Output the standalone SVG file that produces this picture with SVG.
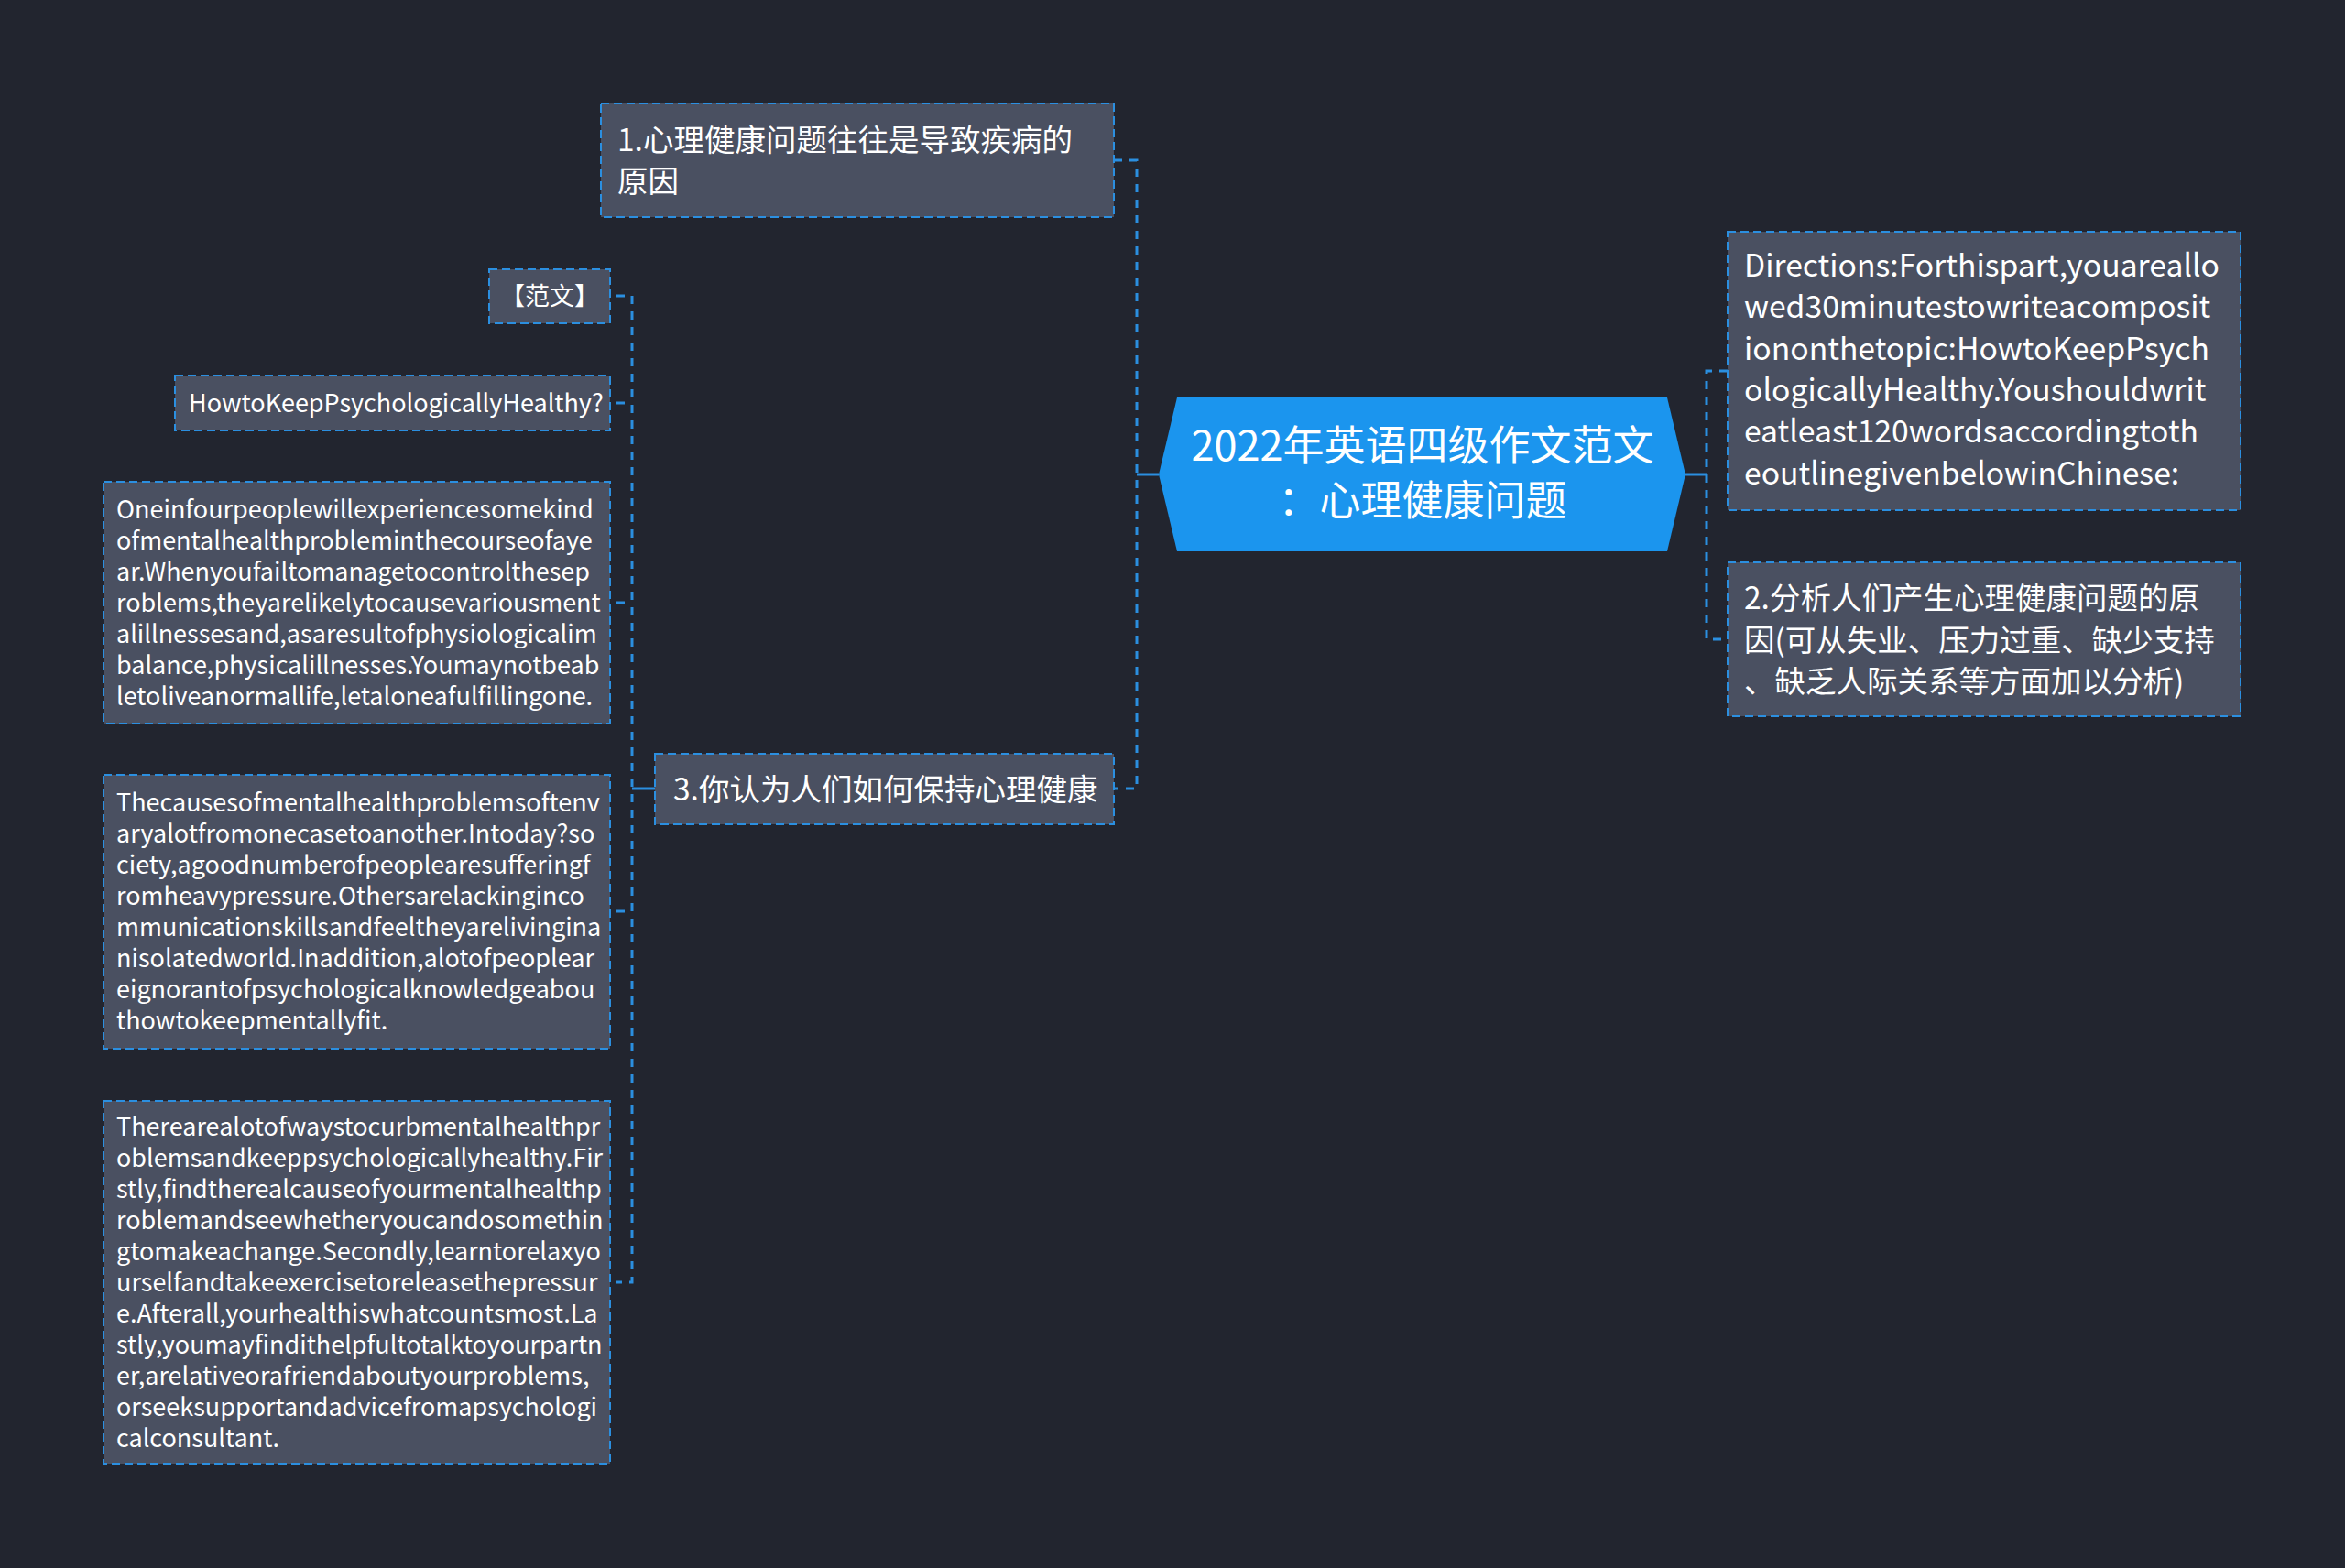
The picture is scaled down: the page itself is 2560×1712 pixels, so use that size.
<svg xmlns="http://www.w3.org/2000/svg" width="2560" height="1712" viewBox="0 0 2560 1712">
<style>
.bg{fill:#22252f}
.box{fill:#4a5061;stroke:#2b8fe0;stroke-width:2;stroke-dasharray:9 5}
.t{fill:#ffffff;font-family:"Noto Sans CJK SC","Noto Sans",sans-serif}
.cj{font-size:33.5px}
.lat{font-size:33.7px}
.sm{font-size:27px}
.ctr{font-size:45px;text-anchor:middle}
.con{fill:none;stroke:#2b8fe0;stroke-width:3;stroke-dasharray:9 8}
.solid{fill:none;stroke:#2b8fe0;stroke-width:3}
</style>
<rect class="bg" x="0" y="0" width="2560" height="1712"/>
<g id="connectors">
  <path class="solid" d="M1265 518 H1241"/>
  <path class="con" d="M1216 175 H1241 V861 H1216"/>
  <path class="solid" d="M1840 518 H1863"/>
  <path class="con" d="M1886 405 H1863 V698 H1886"/>
  <path class="solid" d="M715 861 H690"/>
  <path class="con" d="M673 323 H690 V1400 H673"/>
  <path class="con" d="M673 440 H690"/>
  <path class="con" d="M673 658 H690"/>
  <path class="con" d="M673 995 H690"/>
</g>
<g id="center">
  <polygon points="1265,518 1285,434 1820,434 1840,518 1820,602 1285,602" fill="#1b95ee"/>
  <text class="t ctr" x="1553" y="503">2022年英语四级作文范文</text>
  <text class="t ctr" x="1553" y="563">：心理健康问题</text>
</g>
<g id="node1">
  <rect class="box" x="656" y="113" width="560" height="124"/>
  <text class="t cj" x="674" y="165">1.心理健康问题往往是导致疾病的</text>
  <text class="t cj" x="674" y="210">原因</text>
</g>
<g id="node3">
  <rect class="box" x="715" y="823" width="501" height="77"/>
  <text class="t cj" x="735" y="874">3.你认为人们如何保持心理健康</text>
</g>
<g id="directions">
  <rect class="box" x="1886" y="253" width="560" height="304"/>
  <text class="t lat" x="1904" y="302">Directions:Forthispart,youareallo</text>
  <text class="t lat" x="1904" y="347">wed30minutestowriteacomposit</text>
  <text class="t lat" x="1904" y="393">iononthetopic:HowtoKeepPsych</text>
  <text class="t lat" x="1904" y="438">ologicallyHealthy.Youshouldwrit</text>
  <text class="t lat" x="1904" y="483">eatleast120wordsaccordingtoth</text>
  <text class="t lat" x="1904" y="529">eoutlinegivenbelowinChinese:</text>
</g>
<g id="node2">
  <rect class="box" x="1886" y="614" width="560" height="168"/>
  <text class="t cj" x="1904" y="665">2.分析人们产生心理健康问题的原</text>
  <text class="t cj" x="1904" y="711">因(可从失业、压力过重、缺少支持</text>
  <text class="t cj" x="1904" y="756">、缺乏人际关系等方面加以分析)</text>
</g>
<g id="fanwen">
  <rect class="box" x="534" y="294" width="132" height="59"/>
  <text class="t sm" x="600" y="333" text-anchor="middle">【范文】</text>
</g>
<g id="title">
  <rect class="box" x="191" y="410" width="475" height="60"/>
  <text class="t sm" x="206" y="450">HowtoKeepPsychologicallyHealthy?</text>
</g>
<g id="para1">
  <rect class="box" x="113" y="526" width="553" height="264"/>
  <text class="t sm" x="127" y="566">Oneinfourpeoplewillexperiencesomekind</text>
  <text class="t sm" x="127" y="600">ofmentalhealthprobleminthecourseofaye</text>
  <text class="t sm" x="127" y="634">ar.Whenyoufailtomanagetocontrolthesep</text>
  <text class="t sm" x="127" y="668">roblems,theyarelikelytocausevariousment</text>
  <text class="t sm" x="127" y="702">alillnessesand,asaresultofphysiologicalim</text>
  <text class="t sm" x="127" y="736">balance,physicalillnesses.Youmaynotbeab</text>
  <text class="t sm" x="127" y="770">letoliveanormallife,letaloneafulfillingone.</text>
</g>
<g id="para2">
  <rect class="box" x="113" y="846" width="553" height="299"/>
  <text class="t sm" x="127" y="886">Thecausesofmentalhealthproblemsoftenv</text>
  <text class="t sm" x="127" y="920">aryalotfromonecasetoanother.Intoday?so</text>
  <text class="t sm" x="127" y="954">ciety,agoodnumberofpeoplearesufferingf</text>
  <text class="t sm" x="127" y="988">romheavypressure.Othersarelackinginco</text>
  <text class="t sm" x="127" y="1022">mmunicationskillsandfeeltheyarelivingina</text>
  <text class="t sm" x="127" y="1056">nisolatedworld.Inaddition,alotofpeoplear</text>
  <text class="t sm" x="127" y="1090">eignorantofpsychologicalknowledgeabou</text>
  <text class="t sm" x="127" y="1124">thowtokeepmentallyfit.</text>
</g>
<g id="para3">
  <rect class="box" x="113" y="1202" width="553" height="396"/>
  <text class="t sm" x="127" y="1240">Therearealotofwaystocurbmentalhealthpr</text>
  <text class="t sm" x="127" y="1274">oblemsandkeeppsychologicallyhealthy.Fir</text>
  <text class="t sm" x="127" y="1308">stly,findtherealcauseofyourmentalhealthp</text>
  <text class="t sm" x="127" y="1342">roblemandseewhetheryoucandosomethin</text>
  <text class="t sm" x="127" y="1376">gtomakeachange.Secondly,learntorelaxyo</text>
  <text class="t sm" x="127" y="1410">urselfandtakeexercisetoreleasethepressur</text>
  <text class="t sm" x="127" y="1444">e.Afterall,yourhealthiswhatcountsmost.La</text>
  <text class="t sm" x="127" y="1478">stly,youmayfindithelpfultotalktoyourpartn</text>
  <text class="t sm" x="127" y="1512">er,arelativeorafriendaboutyourproblems,</text>
  <text class="t sm" x="127" y="1546">orseeksupportandadvicefromapsychologi</text>
  <text class="t sm" x="127" y="1580">calconsultant.</text>
</g>
</svg>
